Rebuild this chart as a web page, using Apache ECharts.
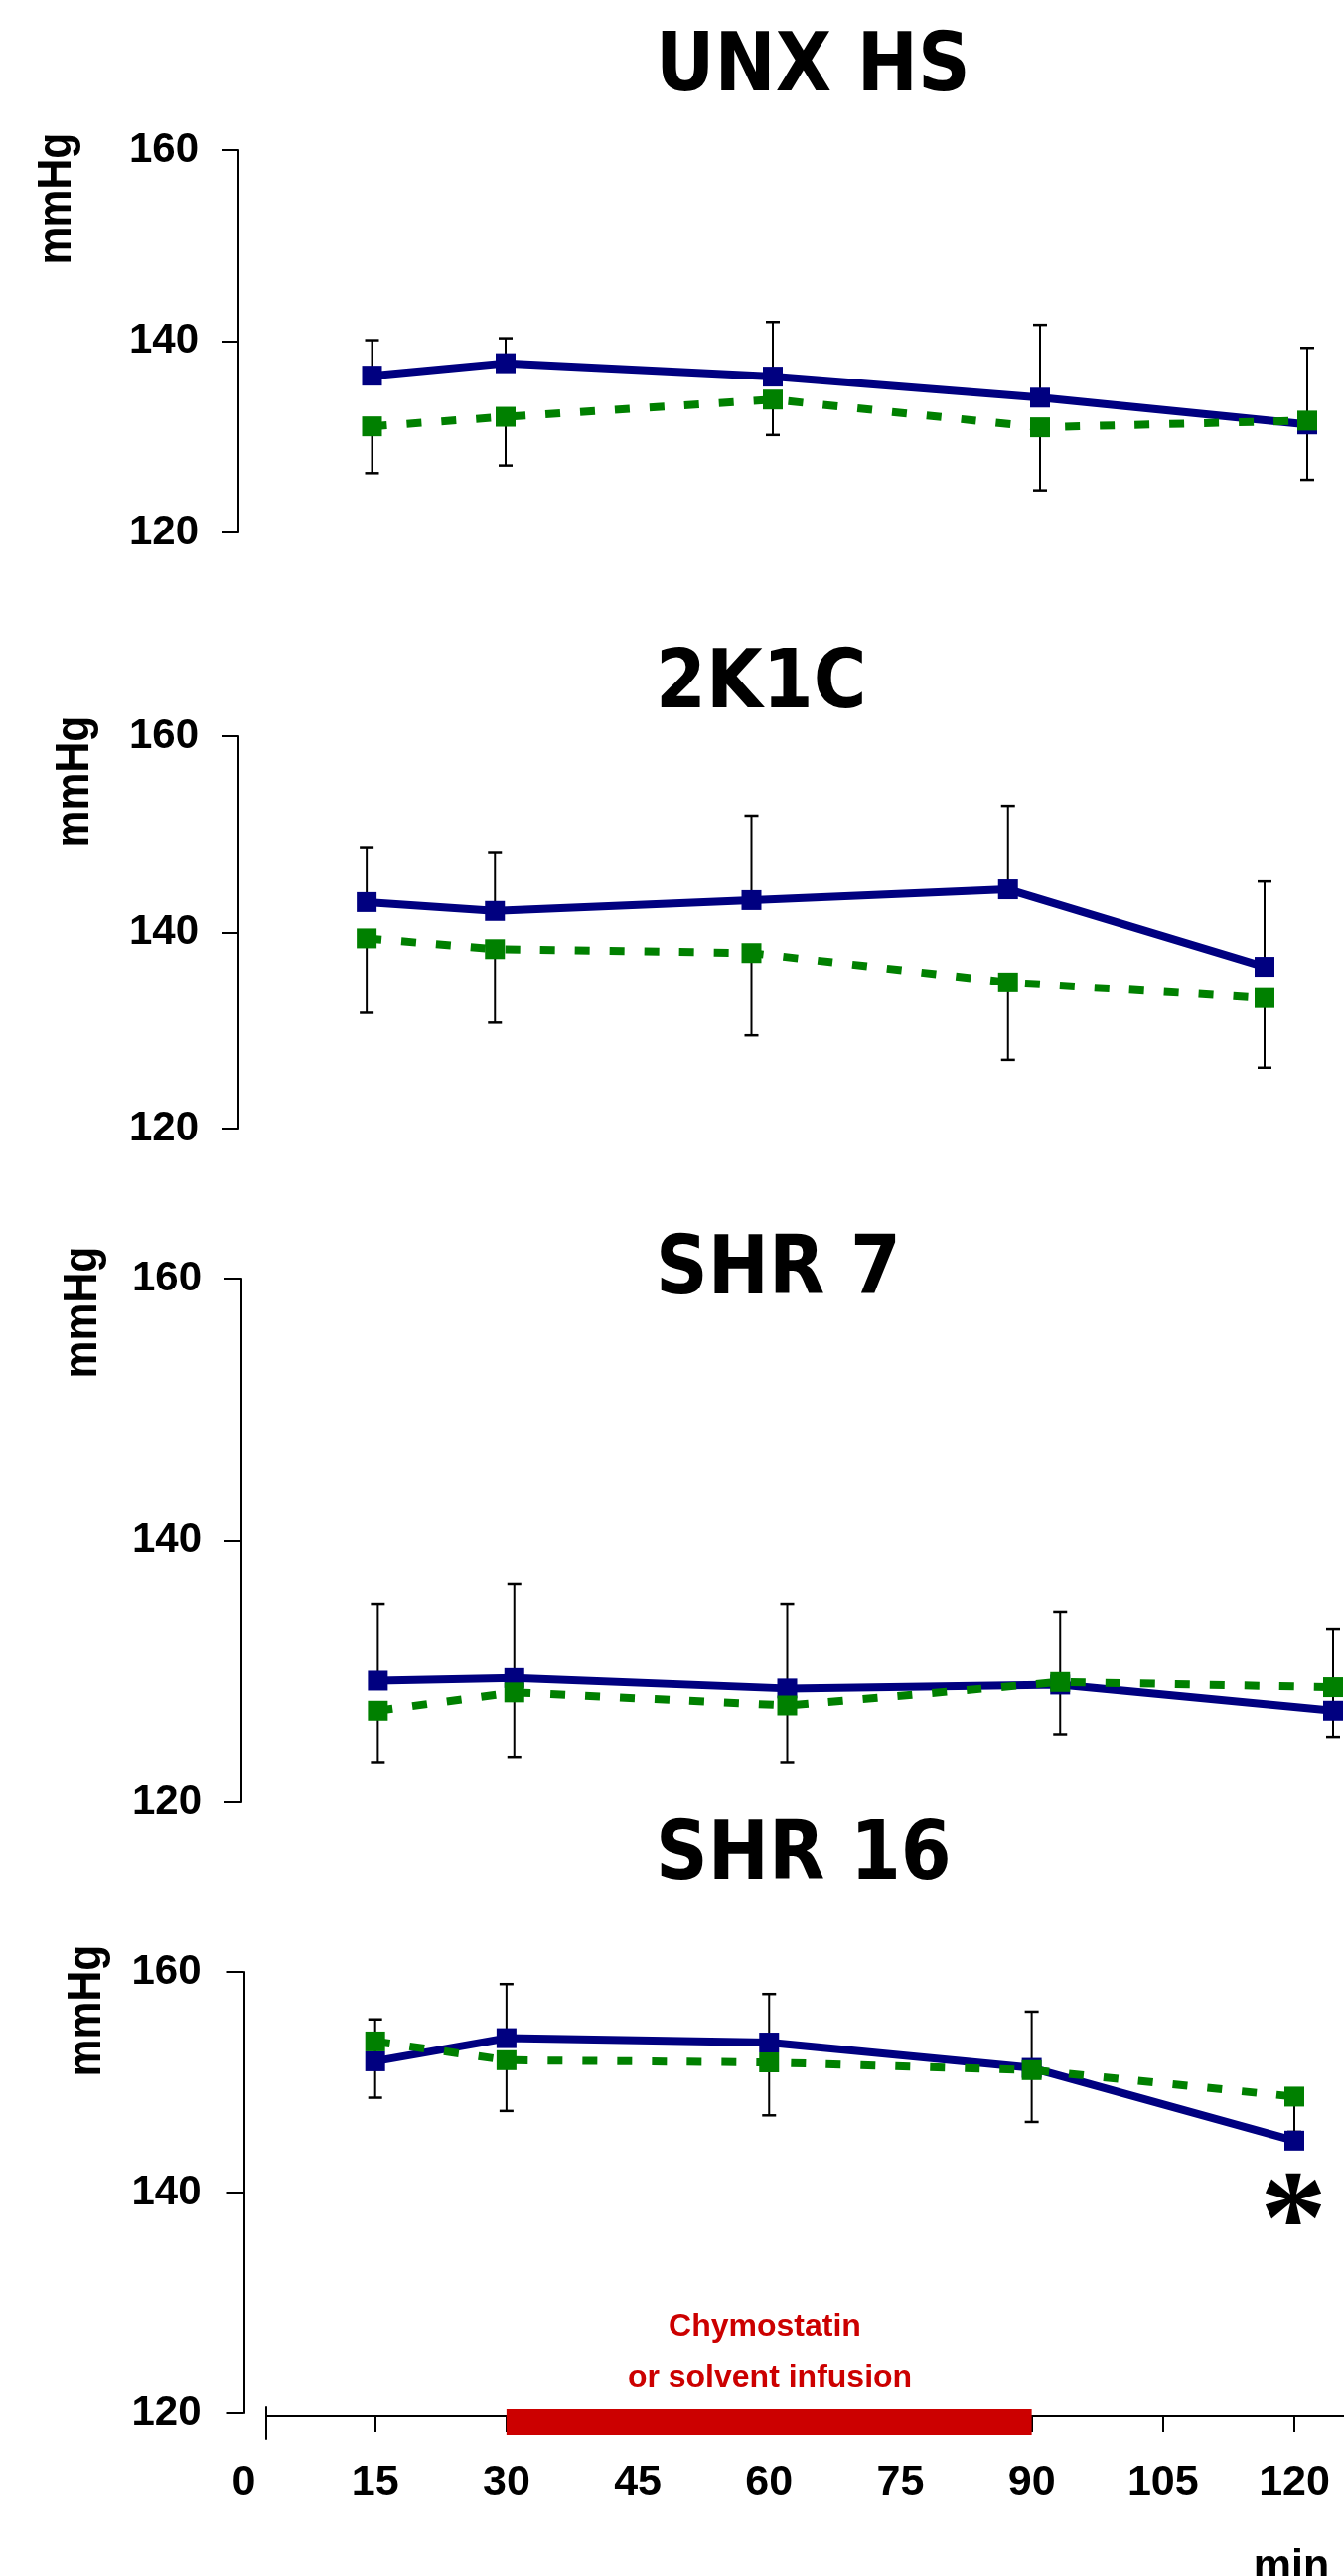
<!DOCTYPE html>
<html>
<head>
<meta charset="utf-8">
<script src="https://cdn.jsdelivr.net/npm/echarts@6/dist/echarts.min.js"></script>
<style>
html,body{margin:0;padding:0;background:#fff;}
#c{width:1353px;height:2593px;}
</style>
</head>
<body>
<div id="c"></div>
<script>
// ---- data ----
const times = [15, 30, 60, 90, 120];
const xTicks = [0, 15, 30, 45, 60, 75, 90, 105, 120];
const yTicks = [120, 140, 160];
const infusion = [30, 90];
const titles = ['UNX HS', '2K1C', 'SHR 7', 'SHR 16'];

const unxBlue      = [136.4, 137.7, 136.3, 134.1, 131.3];
const unxGreen     = [131.1, 132.1, 133.9, 131.0, 131.7];
const unxBlueHigh  = [140.1, 140.3, 142.0, 141.7, 139.3];
const unxGreenLow  = [126.2, 127.0, 130.2, 124.4, 125.5];

const k2cBlue      = [143.1, 142.2, 143.3, 144.4, 136.5];
const k2cGreen     = [139.4, 138.3, 137.9, 134.9, 133.3];
const k2cBlueHigh  = [148.6, 148.1, 151.9, 152.9, 145.2];
const k2cGreenLow  = [131.8, 130.8, 129.5, 127.0, 126.2];

const shr7Blue     = [129.3, 129.5, 128.7, 129.0, 127.0];
const shr7Green    = [127.0, 128.4, 127.4, 129.2, 128.8];
const shr7BlueHigh = [135.1, 136.7, 135.1, 134.5, 133.2];
const shr7GreenLow = [123.0, 123.4, 123.0, 125.2, 125.0];

const shr16Blue     = [151.9, 154.0, 153.6, 151.3, 144.7];
const shr16Green    = [153.7, 152.0, 151.8, 151.1, 148.7];
const shr16BlueHigh = [155.7, 158.9, 158.0, 156.4, 148.0];
const shr16GreenLow = [148.6, 147.4, 147.0, 146.4, 145.5];

// ---- layout ----
const FONT = 'Liberation Sans';
const TITLE_FONT = 'DejaVu Sans';
const BLUE = '#000080', GREEN = '#008000', RED = '#CC0000';
const panels = [
  {blue: unxBlue,  green: unxGreen,  hi: unxBlueHigh,  lo: unxGreenLow,
   grid: {left: 240, top: 151, width: 1076, height: 385}, titleY: 70, unitX: 58, unitY: 200, labelMargin: 40},
  {blue: k2cBlue,  green: k2cGreen,  hi: k2cBlueHigh,  lo: k2cGreenLow,
   grid: {left: 240, top: 741, width: 1033, height: 395}, titleY: 691, unitX: 76, unitY: 787, labelMargin: 40},
  {blue: shr7Blue, green: shr7Green, hi: shr7BlueHigh, lo: shr7GreenLow,
   grid: {left: 243, top: 1287, width: 1099, height: 527}, titleY: 1281, unitX: 84, unitY: 1321, labelMargin: 40},
  {blue: shr16Blue, green: shr16Green, hi: shr16BlueHigh, lo: shr16GreenLow,
   grid: {left: 245.5, top: 1985, width: 1057.5, height: 444}, titleY: 1870, unitX: 88, unitY: 2024, labelMargin: 43}
];
const timeGrid = {left: 245.5, top: 2400, width: 1057.5, height: 32};
const pxPerMin = timeGrid.width / 120;
const lineGrid = {left: 268, top: 2423, width: 1353 - 268, height: 32};
const lineMin = (lineGrid.left - timeGrid.left) / pxPerMin;
const lineMax = (lineGrid.left + lineGrid.width - timeGrid.left) / pxPerMin;
const barLevel = -6;

const grids = [], xAxes = [], yAxes = [], series = [], graphics = [];

function errRender(params, api) {
  const x = api.value(0), m = api.value(1), e = api.value(2);
  const p1 = api.coord([x, m]), p2 = api.coord([x, e]);
  return {type: 'group', children: [
    {type: 'line', shape: {x1: p1[0], y1: p1[1], x2: p2[0], y2: p2[1]}, style: {stroke: '#000', lineWidth: 2}},
    {type: 'line', shape: {x1: p2[0] - 7, y1: p2[1], x2: p2[0] + 7, y2: p2[1]}, style: {stroke: '#000', lineWidth: 2.5}}
  ]};
}

panels.forEach((p, i) => {
  grids.push(p.grid);
  xAxes.push({type: 'value', gridIndex: i, min: 0, max: 120, show: false});
  yAxes.push({
    type: 'value', gridIndex: i, min: yTicks[0], max: yTicks[yTicks.length - 1], interval: 20,
    axisLine: {show: true, onZero: false, lineStyle: {color: '#000', width: 2}},
    axisTick: {show: true, length: 17, lineStyle: {color: '#000', width: 2}},
    axisLabel: {fontFamily: FONT, fontWeight: 'bold', fontSize: 42, color: '#000', margin: p.labelMargin},
    splitLine: {show: false}
  });
  series.push({
    type: 'custom', xAxisIndex: i, yAxisIndex: i, z: 1, renderItem: errRender,
    data: times.map((t, k) => [t, p.blue[k], p.hi[k]])
  });
  series.push({
    type: 'custom', xAxisIndex: i, yAxisIndex: i, z: 1, renderItem: errRender,
    data: times.map((t, k) => [t, p.green[k], p.lo[k]])
  });
  series.push({
    type: 'line', xAxisIndex: i, yAxisIndex: i, z: 3, clip: false,
    symbol: 'rect', symbolSize: 20, showAllSymbol: true,
    itemStyle: {color: BLUE}, lineStyle: {color: BLUE, width: 8},
    data: times.map((t, k) => [t, p.blue[k]])
  });
  series.push({
    type: 'line', xAxisIndex: i, yAxisIndex: i, z: 4, clip: false,
    symbol: 'rect', symbolSize: 20, showAllSymbol: true,
    itemStyle: {color: GREEN}, lineStyle: {color: GREEN, width: 8, type: [15, 20]},
    data: times.map((t, k) => [t, p.green[k]])
  });
  graphics.push({
    type: 'text', x: 660, y: p.titleY, scaleX: 0.893,
    style: {text: titles[i], fontFamily: TITLE_FONT, fontWeight: 'bold', fontSize: 82, fill: '#000',
            textAlign: 'left', textVerticalAlign: 'middle'}
  });
  graphics.push({
    type: 'text', x: p.unitX, y: p.unitY, rotation: Math.PI / 2, scaleX: 0.89,
    style: {text: 'mmHg', fontFamily: FONT, fontWeight: 'bold', fontSize: 48, fill: '#000',
            textAlign: 'center', textVerticalAlign: 'middle'}
  });
});

// time axis: ticks and labels
grids.push(timeGrid);
xAxes.push({
  type: 'value', gridIndex: 4, min: 0, max: 120, interval: 15, position: 'bottom',
  axisLine: {show: false},
  axisTick: {show: true, length: 16, customValues: xTicks.slice(1), lineStyle: {color: '#000', width: 2}},
  axisLabel: {fontFamily: FONT, fontWeight: 'bold', fontSize: 43, color: '#000', margin: 46},
  splitLine: {show: false}
});
yAxes.push({type: 'value', gridIndex: 4, min: 0, max: 1, show: false});

// time axis: line
grids.push(lineGrid);
xAxes.push({
  type: 'value', gridIndex: 5, min: lineMin, max: lineMax,
  axisLine: {show: true, onZero: true, lineStyle: {color: '#000', width: 2}},
  axisTick: {show: false}, axisLabel: {show: false}, splitLine: {show: false}
});
yAxes.push({
  type: 'value', gridIndex: 5, min: -23, max: 9,
  axisLine: {show: true, onZero: false, lineStyle: {color: '#000', width: 2}},
  axisTick: {show: false}, axisLabel: {show: false}, splitLine: {show: false}
});
series.push({
  type: 'line', xAxisIndex: 5, yAxisIndex: 5, z: 5, clip: false, symbol: 'none',
  lineStyle: {color: RED, width: 26},
  data: infusion.map(t => [t, barLevel])
});

graphics.push({type: 'text', x: 770, y: 2342,
  style: {text: 'Chymostatin', fontFamily: FONT, fontWeight: 'bold', fontSize: 32, fill: RED,
          textAlign: 'center', textVerticalAlign: 'middle'}});
graphics.push({type: 'text', x: 775, y: 2394,
  style: {text: 'or solvent infusion', fontFamily: FONT, fontWeight: 'bold', fontSize: 32, fill: RED,
          textAlign: 'center', textVerticalAlign: 'middle'}});
graphics.push({type: 'text', x: 1300, y: 2584,
  style: {text: 'min', fontFamily: FONT, fontWeight: 'bold', fontSize: 43, fill: '#000',
          textAlign: 'center', textVerticalAlign: 'middle'}});
graphics.push({type: 'text', x: 1302, y: 2242,
  style: {text: '*', fontFamily: 'Liberation Serif', fontWeight: 'bold', fontSize: 135, fill: '#000',
          textAlign: 'center', textVerticalAlign: 'middle'}});

const chart = echarts.init(document.getElementById('c'), null, {renderer: 'canvas'});
chart.setOption({
  animation: false,
  backgroundColor: '#fff',
  grid: grids,
  xAxis: xAxes,
  yAxis: yAxes,
  series: series,
  graphic: graphics
});
</script>
</body>
</html>
